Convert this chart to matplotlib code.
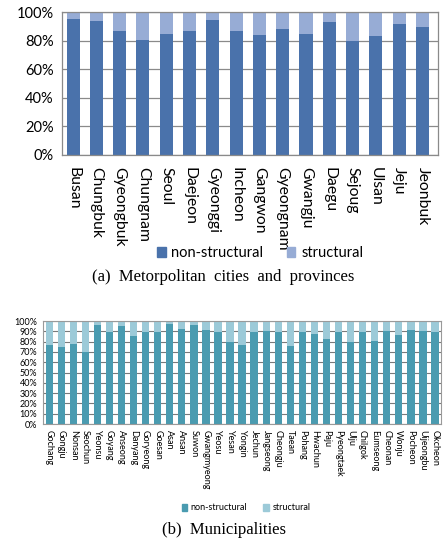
import matplotlib
matplotlib.use('Agg')
import matplotlib.pyplot as plt
from matplotlib.patches import Patch

# (a) metropolitan cities and provinces, share of non-structural (%)
regions = ['Busan', 'Chungbuk', 'Gyeongbuk', 'Chungnam', 'Seoul', 'Daejeon', 'Gyeonggi',
           'Incheon', 'Gangwon', 'Gyeongnam', 'Gwangju', 'Daegu', 'Sejoug', 'Ulsan',
           'Jeju', 'Jeonbuk']
region_nonstruct = [95.3, 93.7, 86.7, 80.4, 84.8, 86.7, 94.4, 86.7, 84.1, 88.3, 84.8,
                    92.8, 79.7, 83.4, 91.8, 89.3]

# (b) municipalities, share of non-structural (%)
municipalities = ['Gochang', 'Gongju', 'Nonsan', 'Seochun', 'Yeonsu', 'Goyang', 'Anseong',
                  'Danyang', 'Goryeong', 'Goesan', 'Asan', 'Ansan', 'Suwon', 'Gwangmyeong',
                  'Yeosu', 'Yesan', 'Yongin', 'Jechun', 'Jangseong', 'Cheongju', 'Taean',
                  'Pohang', 'Hwachun', 'Paju', 'Pyeongtaek', 'Ulju', 'Chilgok', 'Eumseong',
                  'Cheonan', 'Wonju', 'Pocheon', 'Uijeongbu', 'Okcheon']
muni_nonstruct = [77, 75, 78, 70, 96, 89, 95, 85, 89, 89, 97, 92, 96, 91, 89, 80, 77, 89,
                  90, 89, 76, 89, 87, 83, 89, 80, 89, 81, 90, 86, 91, 90, 89]

region_struct = [100 - v for v in region_nonstruct]
muni_struct = [100 - v for v in muni_nonstruct]

fig = plt.figure(figsize=(4.47, 5.45), dpi=100)
font = 'Lato'
grid_col = '#8a8a8a'

# ---- top chart ----
ax1 = fig.add_axes([0.139, 0.7156, 0.841, 0.262])
x1 = range(len(regions))
ax1.bar(x1, region_nonstruct, width=0.56, color='#4a72ab', zorder=2)
ax1.bar(x1, region_struct, width=0.56, bottom=region_nonstruct, color='#97acd5', zorder=2)
ax1.set_xlim(-0.47, 15.67)
ax1.set_ylim(0, 100)
ax1.set_yticks(range(0, 101, 20))
ax1.set_yticklabels([f'{v}%' for v in range(0, 101, 20)], fontsize=10.5, family=font)
ax1.set_xticks(list(x1))
ax1.set_xticklabels(regions, rotation=270, fontsize=11.3, family=font)
ax1.tick_params(length=0, pad=6)
ax1.tick_params(axis='x', pad=9)
ax1.yaxis.grid(True, color=grid_col, linewidth=0.9, zorder=0)
for s in ax1.spines.values():
    s.set_color(grid_col)
    s.set_linewidth(0.9)

fig.legend(handles=[Patch(color='#4a72ab', label='non-structural'),
                    Patch(color='#97acd5', label='structural')],
           loc='center', bbox_to_anchor=(260 / 447, 1 - 253 / 545), ncol=2, frameon=False,
           prop={'family': font, 'size': 10.5}, handlelength=0.6, handleheight=0.7,
           handletextpad=0.4, columnspacing=1.6)
fig.text(0.5, 1 - 277 / 545, '(a)  Metorpolitan  cities  and  provinces', ha='center',
         va='center', family='Liberation Serif', fontsize=12)

# ---- bottom chart ----
ax2 = fig.add_axes([0.096, 0.222, 0.890, 0.189])
x2 = range(len(municipalities))
ax2.bar(x2, muni_nonstruct, width=0.61, color='#4a9bb0', zorder=2)
ax2.bar(x2, muni_struct, width=0.61, bottom=muni_nonstruct, color='#9ccad8', zorder=2)
ax2.set_xlim(-0.52, 32.48)
ax2.set_ylim(0, 100)
ax2.set_yticks(range(0, 101, 10))
ax2.set_yticklabels([f'{v}%' for v in range(0, 101, 10)], fontsize=6.5, family=font)
ax2.set_xticks(list(x2))
ax2.set_xticklabels(municipalities, rotation=270, fontsize=6.5, family=font)
ax2.tick_params(length=0, pad=4)
ax2.yaxis.grid(True, color='#7a7a7a', linewidth=0.8, zorder=0)
for s in ax2.spines.values():
    s.set_color('#9a9a9a')
    s.set_linewidth(0.8)

fig.legend(handles=[Patch(color='#4a9bb0', label='non-structural'),
                    Patch(color='#9ccad8', label='structural')],
           loc='center', bbox_to_anchor=(246 / 447, 1 - 508 / 545), ncol=2, frameon=False,
           prop={'family': font, 'size': 6.5}, handlelength=0.6, handleheight=0.7,
           handletextpad=0.4, columnspacing=1.8)
fig.text(0.5, 1 - 530 / 545, '(b)  Municipalities', ha='center', va='center',
         family='Liberation Serif', fontsize=12)

fig.savefig('out.png', dpi=100)
